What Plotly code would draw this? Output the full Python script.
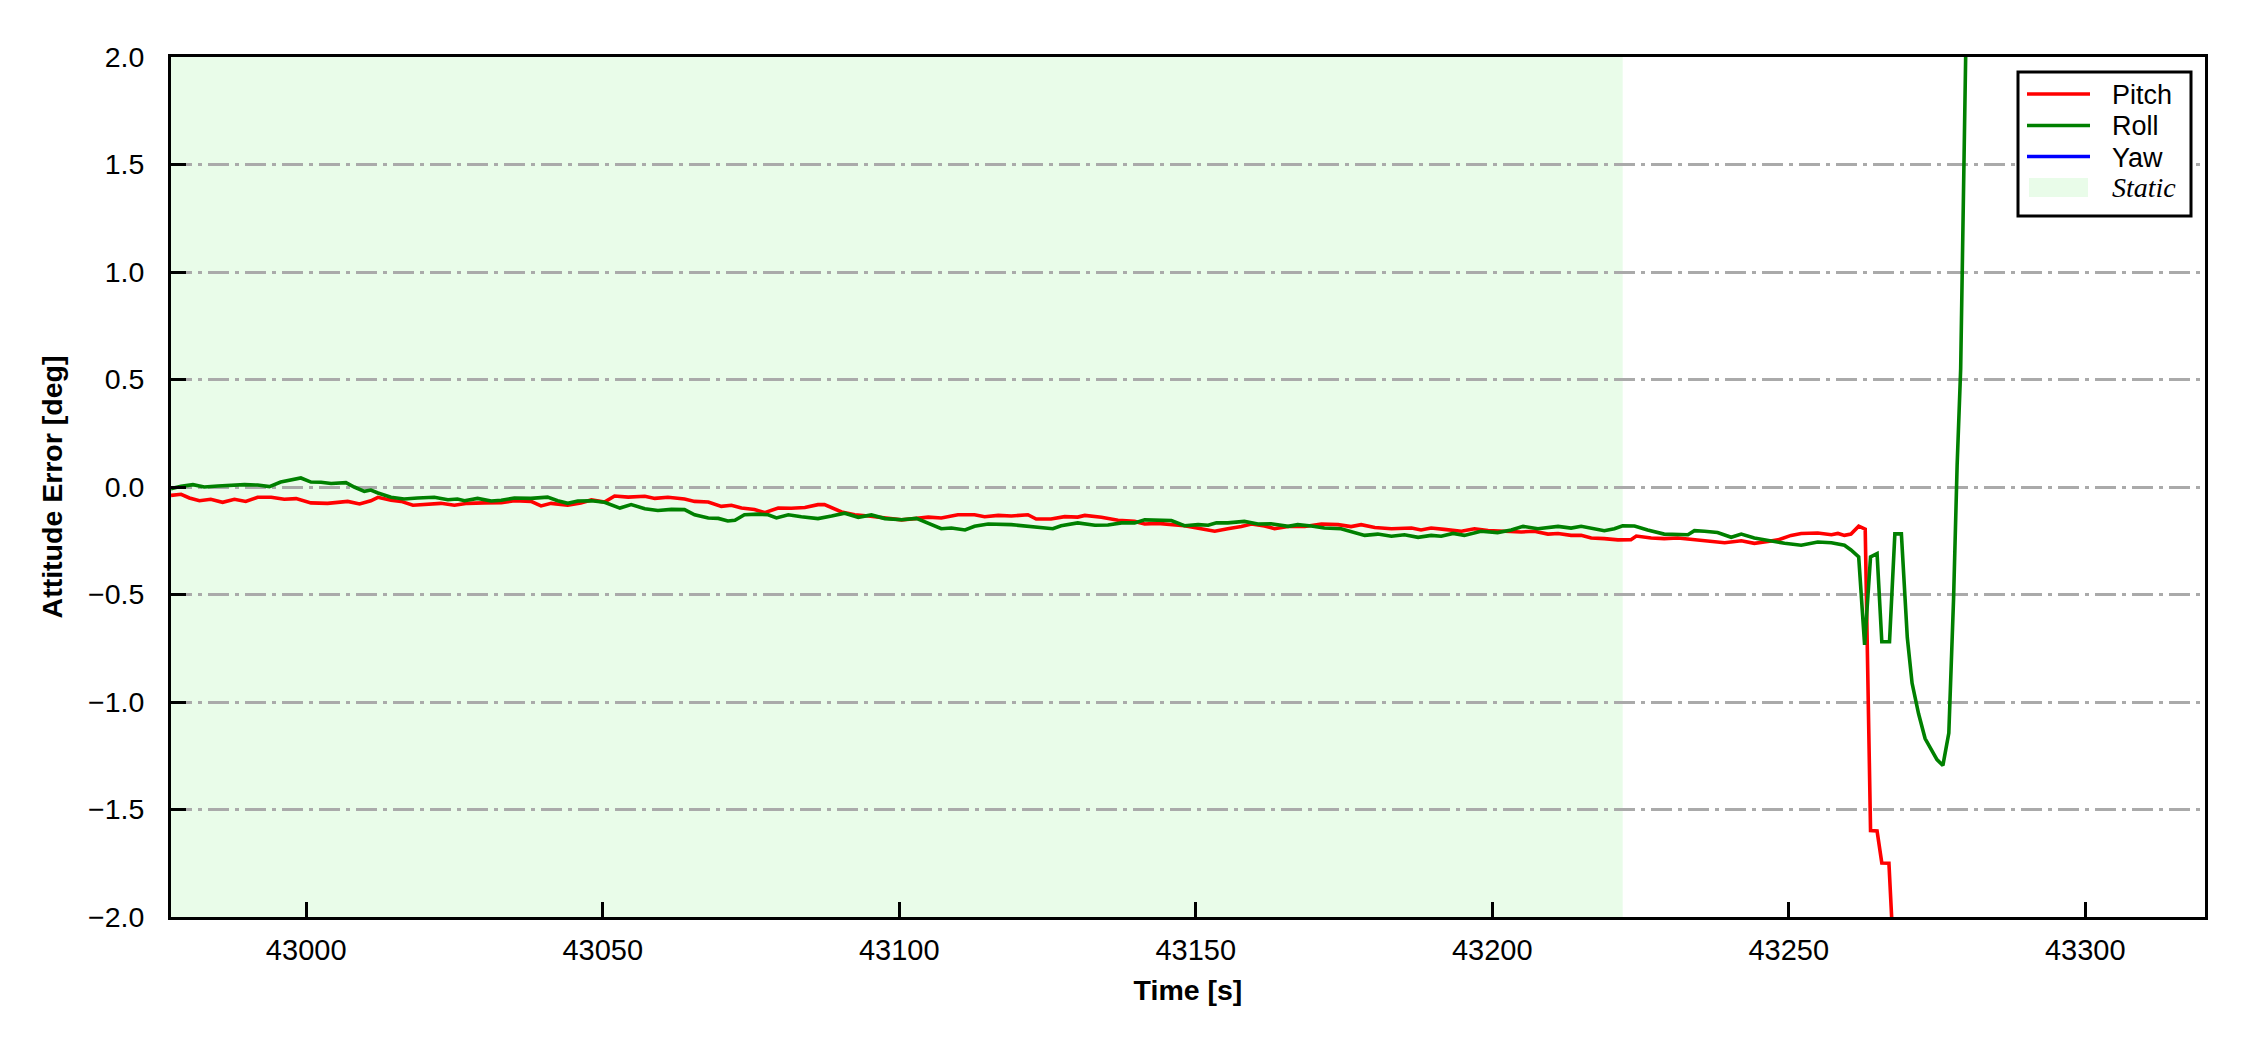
import plotly.graph_objects as go

# ── Data ─────────────────────────────────────────────────────────────────────
PITCH_T = [
    42977.2, 42978.9, 42980.3, 42982.0, 42983.9, 42985.9, 42987.9, 42989.8, 42991.8, 42994.1,
    42996.3, 42998.3, 43000.8, 43003.6, 43007.0, 43009.0, 43010.9, 43012.1, 43014.3, 43016.0,
    43018.0, 43020.5, 43022.7, 43025.0, 43027.2, 43030.0, 43032.9, 43035.1, 43037.9, 43039.6,
    43041.3, 43044.1, 43046.3, 43048.1, 43050.3, 43052.0, 43054.3, 43057.1, 43058.8, 43061.0,
    43063.8, 43065.5, 43067.8, 43070.0, 43071.7, 43073.4, 43075.6, 43077.3, 43079.6, 43081.8,
    43084.1, 43086.3, 43087.4, 43090.3, 43092.5, 43094.8, 43097.6, 43100.4, 43102.6, 43104.9,
    43107.1, 43109.9, 43112.7, 43114.4, 43116.7, 43118.9, 43121.7, 43123.1, 43125.6, 43127.9,
    43130.1, 43131.3, 43134.1, 43136.9, 43139.7, 43141.4, 43143.6, 43145.9, 43148.1, 43150.9,
    43153.2, 43155.4, 43157.7, 43159.4, 43161.6, 43163.3, 43165.6, 43168.4, 43171.2, 43174.0,
    43176.2, 43177.9, 43180.2, 43183.0, 43186.4, 43188.0, 43189.7, 43191.9, 43194.8, 43197.0,
    43199.3, 43202.1, 43204.9, 43207.1, 43209.4, 43211.1, 43213.3, 43215.0, 43216.7, 43218.9,
    43221.2, 43223.4, 43224.3, 43226.8, 43229.0, 43231.3, 43233.5, 43236.4, 43239.2, 43242.0,
    43244.2, 43245.9, 43248.2, 43250.4, 43252.1, 43254.9, 43257.2, 43258.3, 43259.4, 43260.5,
    43261.8, 43262.9, 43263.8, 43264.9, 43265.7, 43266.9, 43268.0, 43269.0,
]
PITCH = [
    -0.039, -0.034, -0.051, -0.064, -0.057, -0.071, -0.057, -0.067, -0.048, -0.048,
    -0.057, -0.054, -0.074, -0.076, -0.067, -0.079, -0.064, -0.048, -0.062, -0.067,
    -0.085, -0.079, -0.076, -0.085, -0.076, -0.074, -0.073, -0.064, -0.067, -0.088,
    -0.076, -0.085, -0.074, -0.060, -0.070, -0.042, -0.047, -0.043, -0.053, -0.048,
    -0.056, -0.067, -0.070, -0.090, -0.085, -0.098, -0.105, -0.119, -0.098, -0.099,
    -0.095, -0.082, -0.082, -0.116, -0.129, -0.135, -0.144, -0.153, -0.147, -0.140,
    -0.144, -0.129, -0.129, -0.138, -0.132, -0.135, -0.129, -0.149, -0.149, -0.138,
    -0.140, -0.132, -0.141, -0.155, -0.160, -0.172, -0.169, -0.175, -0.180, -0.194,
    -0.206, -0.194, -0.184, -0.172, -0.181, -0.194, -0.184, -0.184, -0.172, -0.175,
    -0.184, -0.175, -0.188, -0.194, -0.191, -0.200, -0.191, -0.197, -0.206, -0.194,
    -0.203, -0.206, -0.209, -0.206, -0.219, -0.216, -0.225, -0.225, -0.237, -0.240,
    -0.246, -0.245, -0.228, -0.237, -0.240, -0.237, -0.242, -0.250, -0.259, -0.250,
    -0.262, -0.256, -0.246, -0.225, -0.216, -0.214, -0.222, -0.216, -0.225, -0.219,
    -0.182, -0.196, -1.598, -1.600, -1.749, -1.750, -2.350, -2.600,
]

ROLL_T = [
    42977.2, 42978.9, 42980.9, 42982.8, 42985.1, 42987.3, 42989.6, 42991.8, 42993.8, 42995.7,
    42997.4, 42999.1, 43000.8, 43002.5, 43004.2, 43006.7, 43008.1, 43009.8, 43010.9, 43012.1,
    43014.3, 43016.5, 43018.8, 43021.6, 43023.9, 43025.5, 43026.7, 43028.9, 43031.2, 43032.9,
    43035.1, 43037.9, 43040.7, 43042.4, 43044.1, 43045.8, 43048.1, 43050.3, 43052.9, 43054.8,
    43057.1, 43059.3, 43061.6, 43063.8, 43065.5, 43067.8, 43069.5, 43071.1, 43072.3, 43073.9,
    43076.2, 43077.9, 43079.3, 43081.3, 43083.5, 43086.3, 43088.6, 43090.8, 43093.1, 43095.3,
    43097.6, 43100.4, 43102.9, 43104.9, 43107.1, 43108.8, 43111.1, 43112.7, 43115.0, 43118.9,
    43121.1, 43124.0, 43125.9, 43127.3, 43130.1, 43133.0, 43135.2, 43137.5, 43139.7, 43141.4,
    43144.2, 43145.9, 43148.1, 43150.4, 43152.1, 43153.5, 43155.4, 43158.2, 43160.5, 43162.7,
    43165.6, 43167.2, 43169.5, 43171.7, 43174.5, 43176.2, 43178.5, 43180.7, 43183.0, 43185.2,
    43187.5, 43189.7, 43191.4, 43193.4, 43195.3, 43198.1, 43200.9, 43203.2, 43205.2, 43207.7,
    43211.1, 43213.3, 43215.0, 43218.9, 43220.6, 43222.0, 43224.0, 43226.2, 43229.0, 43233.0,
    43234.1, 43235.8, 43238.0, 43240.3, 43242.0, 43244.2, 43246.5, 43249.3, 43252.1, 43254.9,
    43257.2, 43259.4, 43260.5, 43261.8, 43262.8, 43263.8, 43264.9, 43265.7, 43267.0, 43267.9,
    43269.0, 43270.0, 43270.8, 43271.9, 43273.0, 43275.0, 43276.0, 43277.0, 43277.8, 43278.4,
    43279.0, 43280.0, 43281.0,
]
ROLL = [
    -0.008, 0.003, 0.011, 0.000, 0.005, 0.009, 0.011, 0.009, 0.002, 0.023,
    0.033, 0.042, 0.023, 0.022, 0.016, 0.020, 0.000, -0.020, -0.014, -0.028,
    -0.048, -0.056, -0.051, -0.048, -0.059, -0.056, -0.064, -0.053, -0.065, -0.062,
    -0.051, -0.053, -0.047, -0.064, -0.076, -0.065, -0.064, -0.071, -0.098, -0.082,
    -0.101, -0.109, -0.104, -0.105, -0.129, -0.144, -0.146, -0.158, -0.155, -0.129,
    -0.126, -0.129, -0.144, -0.129, -0.138, -0.147, -0.135, -0.122, -0.141, -0.130,
    -0.147, -0.152, -0.146, -0.167, -0.194, -0.191, -0.200, -0.183, -0.172, -0.175,
    -0.180, -0.186, -0.194, -0.180, -0.167, -0.178, -0.177, -0.167, -0.167, -0.153,
    -0.153, -0.156, -0.180, -0.175, -0.178, -0.166, -0.167, -0.160, -0.172, -0.171,
    -0.183, -0.175, -0.181, -0.191, -0.194, -0.206, -0.225, -0.219, -0.229, -0.222,
    -0.234, -0.225, -0.229, -0.216, -0.225, -0.206, -0.212, -0.200, -0.183, -0.194,
    -0.183, -0.191, -0.183, -0.203, -0.194, -0.180, -0.181, -0.200, -0.219, -0.222,
    -0.203, -0.206, -0.212, -0.234, -0.219, -0.237, -0.250, -0.262, -0.271, -0.256,
    -0.259, -0.271, -0.293, -0.325, -0.734, -0.325, -0.310, -0.720, -0.720, -0.218,
    -0.218, -0.700, -0.912, -1.055, -1.170, -1.268, -1.295, -1.144, -0.520, 0.100,
    0.550, 2.300, 4.000,
]

STATIC_SPAN = [42977.2, 43222.0]   # static interval [s]
X_RANGE = [42977.2, 43320.2]
Y_RANGE = [-2.0, 2.0]
X_TICKS = [43000, 43050, 43100, 43150, 43200, 43250, 43300]
Y_TICKS = [-2.0, -1.5, -1.0, -0.5, 0.0, 0.5, 1.0, 1.5, 2.0]

FONT = "Arial, Liberation Sans, sans-serif"
SERIF = "Liberation Serif, Times New Roman, serif"
STATIC_FILL = "rgb(233,252,233)"
SERIES = [("Pitch", "#ff0000"), ("Roll", "#008000"), ("Yaw", "#0000ff")]
LINE_W = 3.6

# plot box in page pixels (page has an 8px body margin)
PL, PR, PT, PB = 171, 2205, 57, 917


def px(x):
    return (x - PL) / (PR - PL)


def py(y):
    return (PB - y) / (PB - PT)


fig = go.Figure()

fig.add_trace(go.Scatter(x=PITCH_T, y=PITCH, name="Pitch", mode="lines",
                         line=dict(color="#ff0000", width=LINE_W)))
fig.add_trace(go.Scatter(x=ROLL_T, y=ROLL, name="Roll", mode="lines",
                         line=dict(color="#008000", width=LINE_W)))

# shaded static span
fig.add_shape(type="rect", xref="x", yref="paper",
              x0=STATIC_SPAN[0], x1=STATIC_SPAN[1], y0=0, y1=1,
              fillcolor=STATIC_FILL, line_width=0, layer="between")

# ── legend box (drawn by hand to match the matplotlib look) ──────────────────
fig.add_shape(type="rect", xref="paper", yref="paper",
              x0=px(2018), x1=px(2191), y0=py(216), y1=py(72),
              fillcolor="white", line=dict(color="black", width=3), layer="above")
row_y = [94, 125.5, 156.5]
for (name, color), yy in zip(SERIES, row_y):
    fig.add_shape(type="line", xref="paper", yref="paper",
                  x0=px(2027), x1=px(2090), y0=py(yy), y1=py(yy),
                  line=dict(color=color, width=LINE_W), layer="above")
    fig.add_annotation(xref="paper", yref="paper", x=px(2110), y=py(yy + 1),
                       xanchor="left", yanchor="middle", text=name,
                       showarrow=False, font=dict(family=FONT, size=27))
fig.add_shape(type="rect", xref="paper", yref="paper",
              x0=px(2029), x1=px(2088), y0=py(197), y1=py(178),
              fillcolor=STATIC_FILL, line_width=0, layer="above")
fig.add_annotation(xref="paper", yref="paper", x=px(2110), y=py(188),
                   xanchor="left", yanchor="middle", text="<i>Static</i>",
                   showarrow=False, font=dict(family=SERIF, size=28))

fig.update_layout(
    width=2234, height=1034,
    paper_bgcolor="white", plot_bgcolor="white",
    font=dict(family=FONT, size=29, color="black"),
    margin=dict(l=PL - 8, r=2234 - (PR - 8), t=PT - 8, b=1034 - (PB - 8)),
    showlegend=False,
)

fig.update_xaxes(
    range=X_RANGE, tickvals=X_TICKS, tickformat="d", ticks="inside", ticklen=15,
    tickwidth=3, tickcolor="black", showline=True, linewidth=3, linecolor="black",
    mirror=True, showgrid=False, zeroline=False, tickfont=dict(size=29),
    ticklabelstandoff=5,
    title=dict(text="<b>Time [s]</b>", font=dict(size=28.5), standoff=16),
    automargin=False,
)
fig.update_yaxes(
    range=Y_RANGE, tickvals=Y_TICKS, tickformat=".1f", ticks="inside", ticklen=15,
    tickwidth=3, tickcolor="black", showline=True, linewidth=3, linecolor="black",
    mirror=True, showgrid=True, gridcolor="#aaaaaa", gridwidth=2.5,
    griddash="21px,6px,4px,6px", zeroline=False, tickfont=dict(size=28.5),
    ticklabelstandoff=18,
    title=dict(text="<b>Attitude Error [deg]</b>", font=dict(size=28.5), standoff=18),
    automargin=False,
)

fig.write_html("out.html")
